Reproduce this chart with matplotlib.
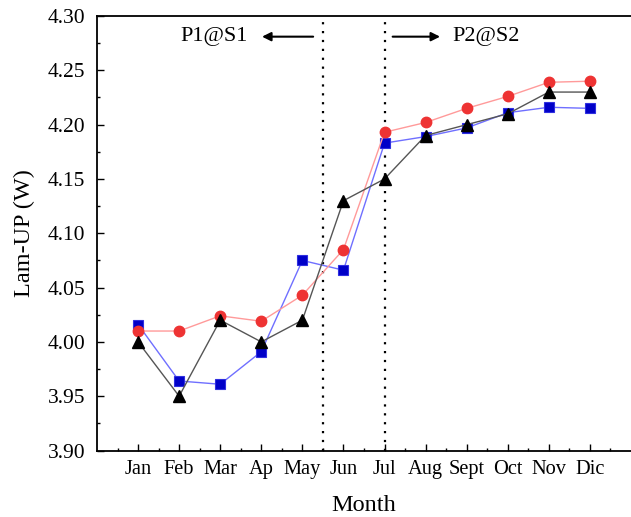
import matplotlib
matplotlib.use("Agg")
import matplotlib.pyplot as plt
from matplotlib.ticker import MultipleLocator, FixedLocator, FormatStrFormatter

plt.rcParams['font.family'] = ['Liberation Serif', 'DejaVu Serif']

months = ["Jan", "Feb", "Mar", "Ap", "May", "Jun", "Jul", "Aug", "Sept", "Oct", "Nov", "Dic"]
blue_sq = [4.016, 3.964, 3.961, 3.991, 4.075, 4.066, 4.183, 4.189, 4.197, 4.211, 4.216, 4.215]
red_ci = [4.010, 4.010, 4.024, 4.019, 4.043, 4.085, 4.193, 4.202, 4.215, 4.226, 4.239, 4.240]
black_tri = [4.00, 3.95, 4.02, 4.00, 4.02, 4.13, 4.15, 4.19, 4.20, 4.21, 4.23, 4.23]

x = list(range(1, len(months) + 1))

fig = plt.figure(figsize=(6.31, 5.17), dpi=100)
ax = fig.add_axes([0.1537, 0.1286, 0.8463, 0.8404])

ax.plot(x, blue_sq, color='#6f6fff', lw=1.0, marker='s', ms=6.5,
        mfc='#0000c8', mec='#2f2fe0', mew=0.8, zorder=3)
ax.plot(x, red_ci, color='#ff9a9a', lw=1.0, marker='o', ms=7.5,
        mfc='#ee3333', mec='#ee3333', zorder=4)
ax.plot(x, black_tri, color='#555555', lw=1.0, marker='^', ms=8,
        mfc='black', mec='black', zorder=5)

ax.axvline(5.5, color='black', ls=(0, (1, 3)), lw=1.6, zorder=2)
ax.axvline(7.0, color='black', ls=(0, (1, 3)), lw=1.6, zorder=2)

ax.annotate('', xy=(3.95, 4.281), xytext=(5.33, 4.281),
            arrowprops=dict(arrowstyle='-|>', color='black', lw=1.5, mutation_scale=13))
ax.text(2.85, 4.281, 'P1@S1', ha='center', va='center', fontsize=16)
ax.annotate('', xy=(8.42, 4.281), xytext=(7.13, 4.281),
            arrowprops=dict(arrowstyle='-|>', color='black', lw=1.5, mutation_scale=13))
ax.text(8.66, 4.281, 'P2@S2', ha='left', va='center', fontsize=16)

ax.set_xlim(0, 13)
ax.set_ylim(3.90, 4.30)
ax.xaxis.set_major_locator(FixedLocator(x))
ax.set_xticklabels(months)
ax.xaxis.set_minor_locator(FixedLocator([i + 0.5 for i in range(0, 13)]))
ax.yaxis.set_major_locator(MultipleLocator(0.05))
ax.yaxis.set_minor_locator(MultipleLocator(0.025))
ax.yaxis.set_major_formatter(FormatStrFormatter('%.2f'))

ax.tick_params(which='both', direction='in', top=False, right=False, width=1.0)
ax.tick_params(which='major', length=5)
ax.tick_params(which='minor', length=2.5)
ax.tick_params(axis='x', labelsize=14.7, pad=7)
ax.tick_params(axis='y', labelsize=15.5, pad=8.5)

for s in ['left', 'bottom', 'top']:
    ax.spines[s].set_linewidth(1.3)
ax.spines['right'].set_visible(False)

ax.set_xlabel('Month', fontsize=17.5, labelpad=11)
ax.set_ylabel('Lam-UP (W)', fontsize=17.5, labelpad=9)

fig.savefig('out.png', dpi=100)
